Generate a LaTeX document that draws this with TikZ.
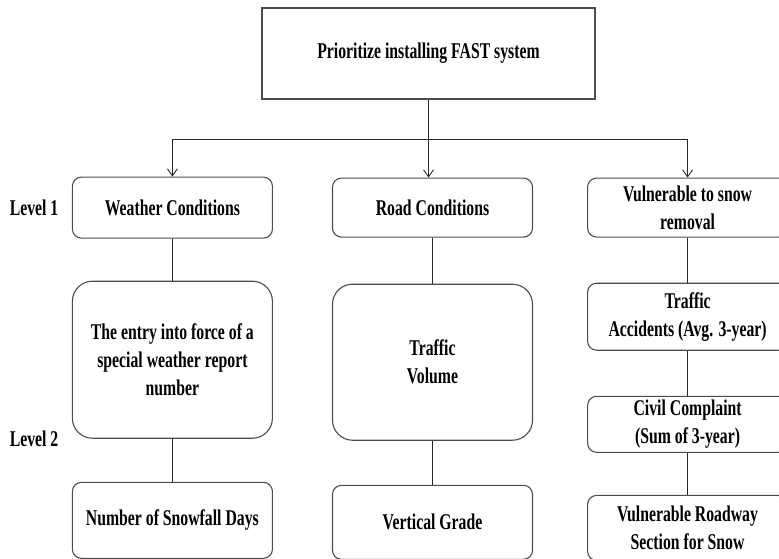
\documentclass[tikz,border=0pt]{standalone}
\usepackage{fontspec}
\setmainfont{Liberation Serif}[FakeStretch=0.7]
\usepackage{tikz}
\usetikzlibrary{positioning,arrows.meta}
\newcommand{\boxfont}{\fontsize{22.5}{28}\selectfont\bfseries}
\tikzstyle{goal}  = [draw=black!70,line width=1.1pt,minimum width=333pt,minimum height=91pt,font=\boxfont]
\tikzstyle{crit}  = [draw=black!70,line width=1.1pt,rounded corners=9pt,minimum width=200pt,align=center,font=\boxfont]
\tikzstyle{tall}  = [crit,rounded corners=20pt]
\tikzstyle{level} = [font=\boxfont]
\tikzstyle{link}  = [draw=black!85,line width=0.9pt]

\begin{document}
\begin{tikzpicture}[>={Straight Barb[length=7pt,width=10pt]}]
\useasboundingbox (0pt,0pt) rectangle (779pt,-558pt);

\node[goal] (goal) at (428.5pt,-53.5pt) {Prioritize installing FAST system};

% level 1
\node[crit,minimum height=59pt] (road) [below=78pt of goal,xshift=4pt] {Road Conditions};
\node[crit,minimum height=61pt] (weather) [left=59pt of road] {Weather Conditions};
\node[crit,minimum height=59pt] (snow) [right=54pt of road] {Vulnerable to snow\\removal};

% level 2
\node[tall,minimum height=157pt] (entry) [below=42pt of weather] {The entry into force of a\\special weather report\\number};
\node[crit,minimum height=76pt] (days) [below=43pt of entry] {Number of Snowfall Days};
\node[tall,minimum height=156pt] (volume) [below=46pt of road] {Traffic\\Volume};
\node[crit,minimum height=74pt] (grade) [below=44pt of volume] {Vertical Grade};
\node[crit,minimum height=67pt] (accid) [below=45pt of snow] {Traffic\\Accidents (Avg. 3-year)};
\node[crit,minimum height=56pt] (compl) [below=45pt of accid] {Civil Complaint\\(Sum of 3-year)};
\node[crit,minimum height=65pt] (roadway) [below=42pt of compl] {Vulnerable Roadway\\Section for Snow};

\node[level] (lv1) [left=10pt of weather] {Level 1};
\node[level] (lv2) at (lv1 |- entry.south) {Level 2};

\coordinate[below=40pt of goal.south] (bus);
\draw[link] (goal.south) -- (bus);
\draw[link] (bus -| weather.north) -- (bus -| snow.north);
\draw[link,->] (bus) -- (goal.south |- road.north);
\draw[link,->] (bus -| weather.north) -- (weather.north);
\draw[link,->] (bus -| snow.north) -- (snow.north);

\path[link]
    (weather) edge (entry)
    (entry)   edge (days)
    (road)    edge (volume)
    (volume)  edge (grade)
    (snow)    edge (accid)
    (accid)   edge (compl)
    (compl)   edge (roadway);
\end{tikzpicture}
\end{document}
